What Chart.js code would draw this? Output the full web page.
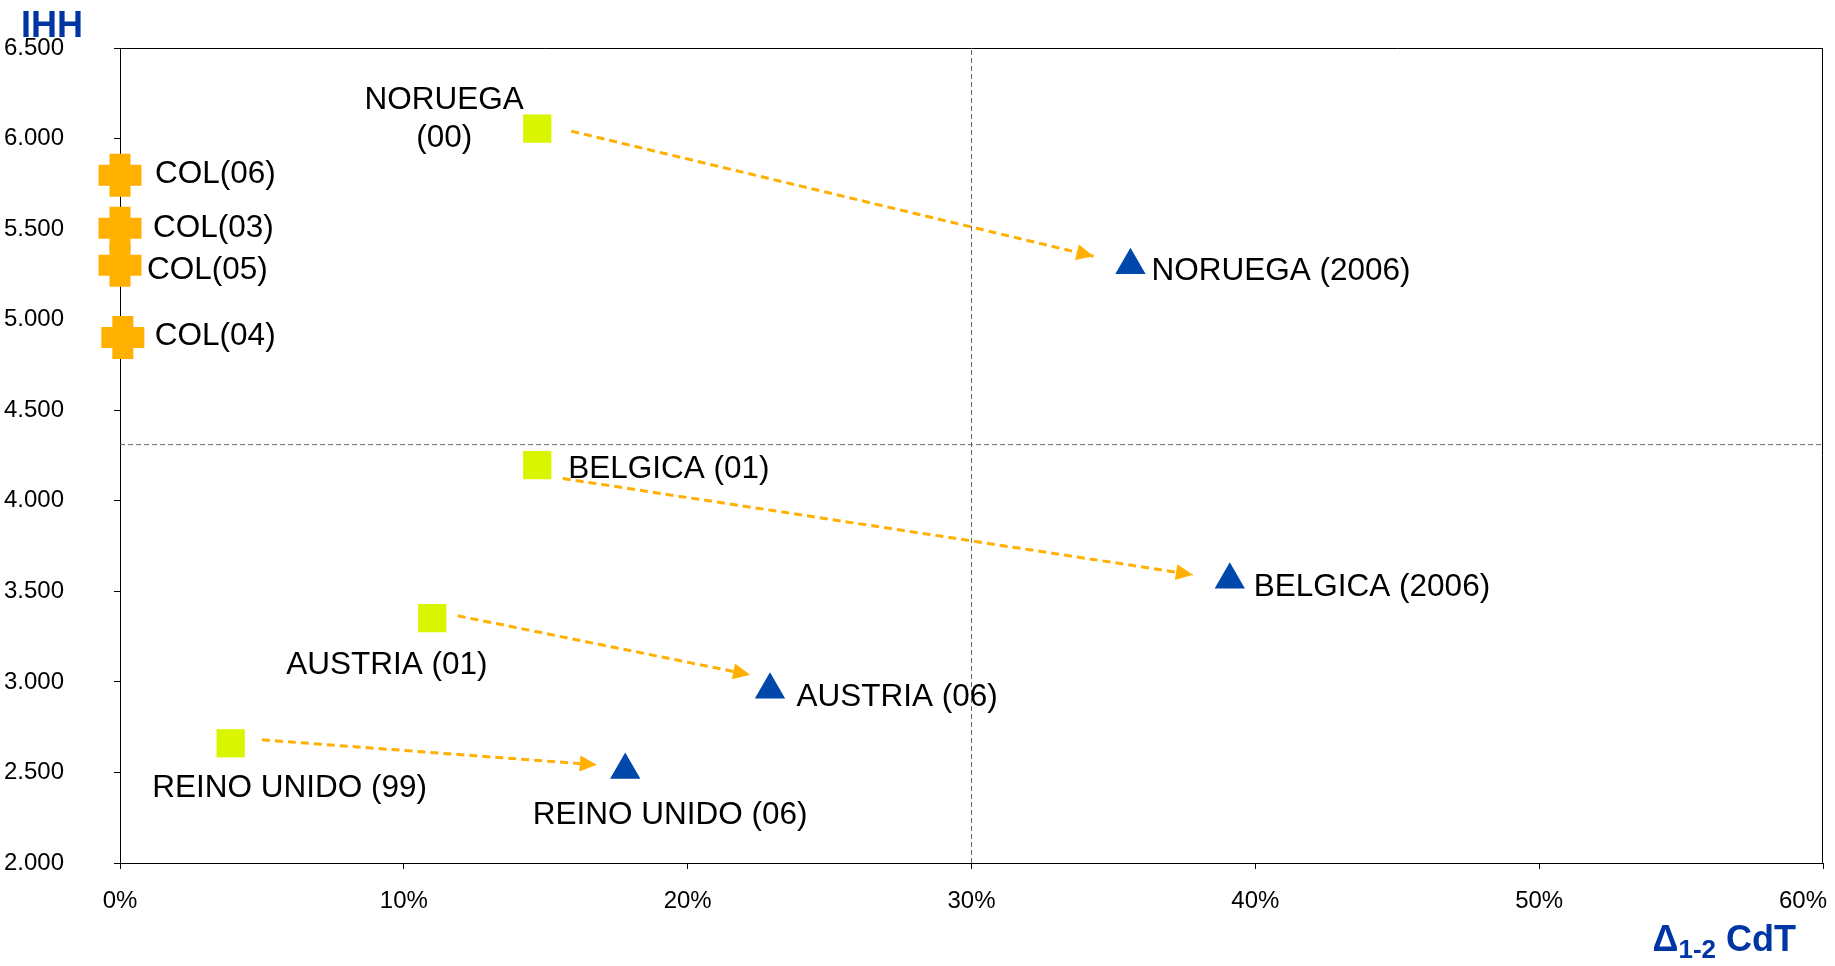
<!DOCTYPE html>
<html>
<head>
<meta charset="utf-8">
<script src="https://cdn.jsdelivr.net/npm/chart.js@4.4.1/dist/chart.umd.min.js"></script>
<style>
  html, body { margin: 0; padding: 0; background: #fff; overflow: hidden; }
  #wrap { width: 1835px; height: 966px; }
</style>
</head>
<body>
<div id="wrap"><canvas id="chart"></canvas></div>
<script>
// axis ranges (IHH on y, Δ1-2 CdT in % on x)
const yMin = 2000, yMax = 6500, yStep = 500;
const xMin = 0, xMax = 60, xStep = 10;

// first year of each country (squares)
const startNames = ['NORUEGA\n(00)', 'BELGICA (01)', 'AUSTRIA (01)', 'REINO UNIDO (99)'];
const startX = [14.7, 14.7, 11.0, 3.9];
const startY = [6055, 4197, 3352, 2661];

// 2006 (triangles)
const endNames = ['NORUEGA (2006)', 'BELGICA (2006)', 'AUSTRIA (06)', 'REINO UNIDO (06)'];
const endX = [35.6, 39.1, 22.9, 17.8];
const endY = [5300, 3564, 2956, 2514];

// Colombia by year (crosses)
const colNames = ['COL(06)', 'COL(03)', 'COL(05)', 'COL(04)'];
const colX = [0, 0, 0, 0.1];
const colY = [5798, 5505, 5300, 4902];

// arrows between the two years
const arrowFromX = [15.9, 15.6, 11.9, 5.0];
const arrowFromY = [6041, 4123, 3365, 2680];
const arrowToX = [34.3, 37.8, 22.2, 16.8];
const arrowToY = [5350, 3592, 3039, 2542];

// dashed reference lines
const refX = 30;
const refY = 4310;

// label placement, pixels from the marker: [dx, dy, align]
const startNamePos = [[-93, -28, 'center'], [31, 4.5], [-146, 47.5], [-78.5, 45]];
const endNamePos = [[21, 6], [24, 7.5], [26.5, 7], [-92.5, 45]];
const colNamePos = [[35, -1], [33, 0], [27, 5], [32, -1]];

const FONT = '"Liberation Sans", Arial, sans-serif';
const BLUE_TITLE = '#0036A3';
const ORANGE = '#FFB000';

const pts = (xs, ys) => xs.map((x, i) => ({ x: x, y: ys[i] }));

const datasets = [];

// reference lines
datasets.push({
    data: [{ x: refX, y: yMin }, { x: refX, y: yMax }],
    showLine: true, borderColor: '#666', borderWidth: 1, borderDash: [5, 3],
    pointRadius: 0, order: 10
});
datasets.push({
    data: [{ x: xMin, y: refY }, { x: xMax, y: refY }],
    showLine: true, borderColor: '#666', borderWidth: 1, borderDash: [5, 3],
    pointRadius: 0, order: 10
});

// arrows
for (let i = 0; i < arrowFromX.length; i++) {
    datasets.push({
        data: [{ x: arrowFromX[i], y: arrowFromY[i] }, { x: arrowToX[i], y: arrowToY[i] }],
        showLine: true, borderColor: ORANGE, borderWidth: 3, borderDash: [8, 5],
        pointRadius: 0, arrow: true, order: 5
    });
}

datasets.push({
    data: pts(startX, startY), names: startNames, namePos: startNamePos,
    pointStyle: 'rect', pointRadius: 20, backgroundColor: '#D9F500',
    borderColor: '#D9F500', borderWidth: 0, order: 1
});
datasets.push({
    data: pts(endX, endY), names: endNames, namePos: endNamePos,
    pointStyle: 'triangle', pointRadius: 17.5, backgroundColor: '#0047AB',
    borderColor: '#0047AB', borderWidth: 0, order: 1
});
datasets.push({
    data: pts(colX, colY), names: colNames, namePos: colNamePos,
    pointStyle: 'cross', pointRadius: 21.5, borderColor: ORANGE,
    borderWidth: 21, clip: false, order: 1
});

const decorations = {
    id: 'decorations',
    beforeDatasetsDraw(chart) {
        const { ctx, chartArea: a } = chart;
        ctx.save();
        ctx.strokeStyle = '#000';
        ctx.lineWidth = 1;
        ctx.beginPath();
        ctx.moveTo(a.left, a.top + 0.5);
        ctx.lineTo(a.right, a.top + 0.5);
        ctx.moveTo(a.right - 0.5, a.top);
        ctx.lineTo(a.right - 0.5, a.bottom);
        ctx.stroke();
        ctx.restore();
    },
    afterDatasetsDraw(chart) {
        const { ctx, chartArea: a } = chart;

        // arrowheads at the end of each arrow
        chart.data.datasets.forEach((ds, i) => {
            if (!ds.arrow) return;
            const [p0, p1] = chart.getDatasetMeta(i).data;
            const ang = Math.atan2(p1.y - p0.y, p1.x - p0.x);
            ctx.save();
            ctx.translate(p1.x, p1.y);
            ctx.rotate(ang);
            ctx.fillStyle = ds.borderColor;
            ctx.beginPath();
            ctx.moveTo(0, 0);
            ctx.lineTo(-17, -8);
            ctx.lineTo(-17, 8);
            ctx.closePath();
            ctx.fill();
            ctx.restore();
        });

        // country labels
        ctx.save();
        ctx.font = '31.5px ' + FONT;
        ctx.fillStyle = '#000';
        ctx.textBaseline = 'middle';
        chart.data.datasets.forEach((ds, i) => {
            if (!ds.names) return;
            chart.getDatasetMeta(i).data.forEach((pt, j) => {
                const [dx, dy, align] = ds.namePos[j];
                ctx.textAlign = align || 'left';
                ds.names[j].split('\n').forEach((line, k) => {
                    ctx.fillText(line, pt.x + dx, pt.y + dy + k * 38);
                });
            });
        });
        ctx.restore();

        // axis titles
        ctx.save();
        ctx.fillStyle = BLUE_TITLE;
        ctx.textBaseline = 'alphabetic';
        ctx.font = 'bold 36px ' + FONT;
        ctx.textAlign = 'center';
        ctx.fillText('IHH', a.left - 68, a.top - 11);

        const big = 'bold 36px ' + FONT, small = 'bold 26px ' + FONT;
        ctx.textAlign = 'left';
        ctx.font = big;
        const wD = ctx.measureText('Δ').width;
        const wC = ctx.measureText(' CdT').width;
        ctx.font = small;
        const wS = ctx.measureText('1-2').width;
        let x = a.right - 27 - (wD + wS + wC);
        const base = a.bottom + 88;
        ctx.font = big;
        ctx.fillText('Δ', x, base);
        x += wD;
        ctx.font = small;
        ctx.fillText('1-2', x, base + 7);
        x += wS;
        ctx.font = big;
        ctx.fillText(' CdT', x, base);
        ctx.restore();
    }
};

Chart.defaults.font.family = FONT;
Chart.defaults.color = '#000';

new Chart(document.getElementById('chart'), {
    type: 'scatter',
    data: { datasets: datasets },
    options: {
        responsive: true,
        maintainAspectRatio: false,
        animation: false,
        layout: { autoPadding: false, padding: { left: 0, top: 48, right: 12, bottom: 0 } },
        plugins: { legend: { display: false }, tooltip: { enabled: false } },
        scales: {
            x: {
                type: 'linear', min: xMin, max: xMax,
                ticks: {
                    stepSize: xStep, padding: 18, maxRotation: 0,
                    font: { size: 24 },
                    callback: v => v === xMax ? v + '%      ' : v + '%'
                },
                grid: { display: true, drawOnChartArea: false, drawTicks: true, tickLength: 6, color: '#000' },
                border: { display: true, color: '#000', width: 1 },
                afterFit: s => { s.height = 103; s.paddingLeft = 0; s.paddingRight = 0; }
            },
            y: {
                type: 'linear', min: yMin, max: yMax,
                ticks: {
                    stepSize: yStep, padding: 50,
                    font: { size: 24 },
                    callback: v => (v / 1000).toFixed(3)
                },
                grid: { display: true, drawOnChartArea: false, drawTicks: true, tickLength: 6, color: '#000' },
                border: { display: true, color: '#000', width: 1 },
                afterFit: s => { s.width = 120; s.paddingTop = 0; s.paddingBottom = 0; }
            }
        }
    },
    plugins: [decorations]
});
</script>
</body>
</html>
